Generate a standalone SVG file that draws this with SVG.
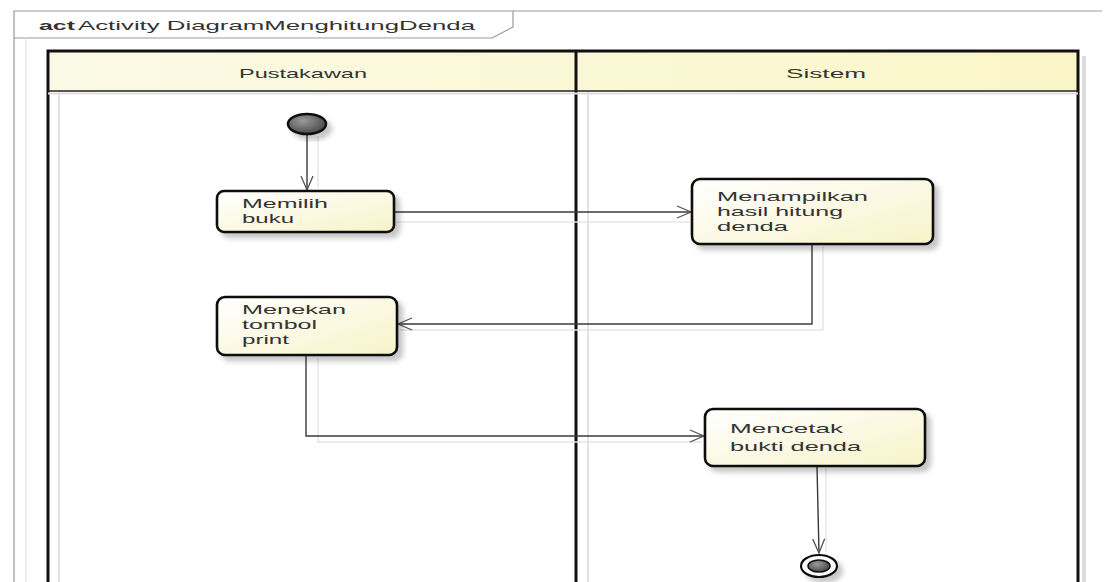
<svg xmlns="http://www.w3.org/2000/svg" width="1104" height="582" viewBox="0 0 1104 582">
  <defs>
    <linearGradient id="actFill" x1="0" y1="0" x2="1" y2="1">
      <stop offset="0" stop-color="#ffffff"/>
      <stop offset="1" stop-color="#f7f3c9"/>
    </linearGradient>
    <linearGradient id="laneFill" x1="0" y1="0" x2="1" y2="0">
      <stop offset="0" stop-color="#fbfae6"/>
      <stop offset="1" stop-color="#fbf6c8"/>
    </linearGradient>
    <radialGradient id="dotFill" cx="0.4" cy="0.35" r="0.7">
      <stop offset="0" stop-color="#9a9a9a"/>
      <stop offset="1" stop-color="#444444"/>
    </radialGradient>
    <filter id="shadow" x="-20%" y="-20%" width="150%" height="160%">
      <feDropShadow dx="5" dy="5" stdDeviation="2.5" flood-color="#000" flood-opacity="0.22"/>
    </filter>
    <marker id="open" viewBox="0 0 16 14" refX="15" refY="7" markerWidth="16" markerHeight="14" markerUnits="userSpaceOnUse" orient="auto">
      <path d="M1,1 L15,7 L1,13" fill="none" stroke="#555" stroke-width="1.3"/>
    </marker>
  </defs>
  <style>
    .frame { fill: none; stroke: #9a9a9a; stroke-width: 1.2; }
    .lane { fill: none; stroke: #111; stroke-width: 3; }
    .laneShade { stroke: #e2e2e2; stroke-width: 2; }
    .hdr { fill: url(#laneFill); }
    .txt { font-family: "Liberation Sans", Arial, sans-serif; font-size: 13px; fill: #333; }
    .act { fill: url(#actFill); stroke: #111; stroke-width: 2.6; filter: url(#shadow); }
    .flow { fill: none; stroke: #3a3a3a; stroke-width: 1.4; marker-end: url(#open); }
    .ghost { fill: none; stroke: #e4e4e4; stroke-width: 1.4; }
  </style>

  <rect width="1104" height="582" fill="#ffffff"/>

  <!-- diagram frame with name tab -->
  <g id="frame">
    <path class="frame" d="M14,582 V11 H1102"/>
    <path class="frame" d="M14,38 H492 L513,27 V11"/>
    <line x1="26" y1="38" x2="26" y2="582" stroke="#e6e6e6" stroke-width="1.5"/>
    <text class="txt" x="39" y="30" font-weight="bold" textLength="36" lengthAdjust="spacingAndGlyphs">act</text>
    <text class="txt" x="78" y="30" textLength="397" lengthAdjust="spacingAndGlyphs">Activity DiagramMenghitungDenda</text>
  </g>

  <!-- swimlanes -->
  <g id="lanes">
    <rect class="hdr" x="48" y="51" width="1030" height="40"/>
    <line class="laneShade" x1="59" y1="92" x2="59" y2="582"/>
    <line class="laneShade" x1="588" y1="92" x2="588" y2="582"/>
    <line x1="1084" y1="56" x2="1084" y2="582" stroke="#dcdcdc" stroke-width="4"/>
    <path class="lane" d="M48,582 V51 H1078 V582"/>
    <line class="lane" x1="576" y1="51" x2="576" y2="582"/>
    <line x1="48" y1="91" x2="1078" y2="91" stroke="#222" stroke-width="1.6"/>
    <line x1="48" y1="93.5" x2="1078" y2="93.5" stroke="#e0e0e0" stroke-width="2"/>
    <text class="txt" x="239" y="78" textLength="128" lengthAdjust="spacingAndGlyphs">Pustakawan</text>
    <text class="txt" x="786" y="78" textLength="80" lengthAdjust="spacingAndGlyphs">Sistem</text>
  </g>

  <!-- control flows -->
  <g id="connectors">
    <path class="ghost" d="M318,136 V188"/>
    <path class="ghost" d="M396,222 H690"/>
    <path class="ghost" d="M823,246 V330 H400"/>
    <path class="ghost" d="M318,358 V442 H702"/>
    <path class="ghost" d="M826,468 V552"/>
    <path class="flow" d="M307,134 V190"/>
    <path class="flow" d="M395,212 H691"/>
    <path class="flow" d="M812,245 V324 H398"/>
    <path class="flow" d="M306,356 V436 H704"/>
    <path class="flow" d="M817,467 L819,553"/>
  </g>

  <g id="start">
    <ellipse cx="307" cy="124" rx="19" ry="10" fill="url(#dotFill)" stroke="#111" stroke-width="2.5" filter="url(#shadow)"/>
  </g>

  <g id="memilih-buku">
    <rect class="act" x="217" y="191" width="177" height="41" rx="7"/>
    <text class="txt" x="242" y="208" textLength="86" lengthAdjust="spacingAndGlyphs">Memilih</text>
    <text class="txt" x="242" y="223" textLength="52" lengthAdjust="spacingAndGlyphs">buku</text>
  </g>

  <g id="menampilkan-hasil">
    <rect class="act" x="692" y="179" width="241" height="65" rx="8"/>
    <text class="txt" x="717" y="201" textLength="151" lengthAdjust="spacingAndGlyphs">Menampilkan</text>
    <text class="txt" x="717" y="216" textLength="126" lengthAdjust="spacingAndGlyphs">hasil hitung</text>
    <text class="txt" x="717" y="231" textLength="71" lengthAdjust="spacingAndGlyphs">denda</text>
  </g>

  <g id="menekan-tombol">
    <rect class="act" x="217" y="297" width="180" height="58" rx="8"/>
    <text class="txt" x="242" y="314" textLength="104" lengthAdjust="spacingAndGlyphs">Menekan</text>
    <text class="txt" x="242" y="329" textLength="75" lengthAdjust="spacingAndGlyphs">tombol</text>
    <text class="txt" x="242" y="344" textLength="47" lengthAdjust="spacingAndGlyphs">print</text>
  </g>

  <g id="mencetak-bukti">
    <rect class="act" x="705" y="409" width="220" height="57" rx="8"/>
    <text class="txt" x="730" y="433" textLength="113" lengthAdjust="spacingAndGlyphs">Mencetak</text>
    <text class="txt" x="730" y="451" textLength="131" lengthAdjust="spacingAndGlyphs">bukti denda</text>
  </g>

  <g id="end">
    <ellipse cx="819" cy="566" rx="18" ry="11" fill="#fff" stroke="#111" stroke-width="2.2" filter="url(#shadow)"/>
    <ellipse cx="819" cy="566" rx="11" ry="6" fill="url(#dotFill)" stroke="#111" stroke-width="1.5"/>
  </g>
</svg>
